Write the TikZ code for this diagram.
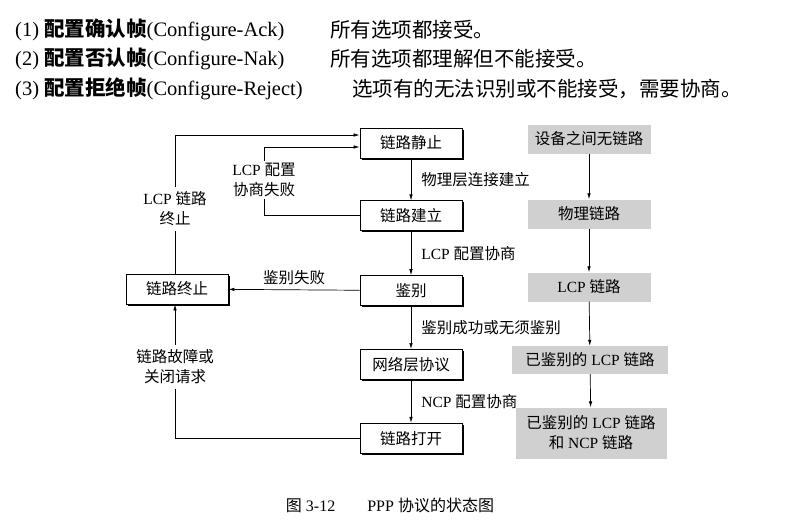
\documentclass[tikz,border=0pt]{standalone}
\usepackage{fontspec}
\setmainfont{Liberation Serif}
\newfontfamily\cjk{Noto Sans CJK SC}
\usetikzlibrary{positioning,arrows.meta,shadows}
\newcommand{\zh}[1]{{\cjk #1}}

\begin{document}
\begin{tikzpicture}[x=1pt,y=-1pt,
    state/.style={draw, line width=0.8pt, fill=white, minimum width=102pt, minimum height=30pt,
      inner sep=0pt, font=\fontsize{15.5}{18}\selectfont,
      drop shadow={shadow xshift=1.5pt, shadow yshift=-1.5pt, opacity=1, fill=black}},
    phase/.style={fill=phasegray, minimum width=123pt, minimum height=29pt, inner sep=0pt,
      align=center, font=\fontsize{15.5}{20}\selectfont},
    lbl/.style={inner sep=2pt, align=center, font=\fontsize{15.5}{20}\selectfont},
    flow/.style={-{Latex[length=6pt,width=3.5pt]}, line width=0.7pt},
    topline/.style={anchor=west, inner sep=0pt, font=\fontsize{20.5}{24}\selectfont}]
    \definecolor{phasegray}{RGB}{208,208,208}

    \useasboundingbox (0,0) rectangle (785,528);

    % Frame types
    \node[topline] (ack) at (15,30) {(1) \textbf{\zh{配置确认帧}}(Configure-Ack)};
    \node[topline] (nak) at (15,59) {(2) \textbf{\zh{配置否认帧}}(Configure-Nak)};
    \node[topline] (rej) at (15,89) {(3) \textbf{\zh{配置拒绝帧}}(Configure-Reject)};
    \node[topline] (ackmeaning) at (330,30) {\zh{所有选项都接受。}};
    \node[topline] (nakmeaning) at (330,59) {\zh{所有选项都理解但不能接受。}};
    \node[topline] (rejmeaning) at (352,89) {\zh{选项有的无法识别或不能接受，需要协商。}};

    % States
    \node[state] (idle) at (411,143) {\zh{链路静止}};
    \node[state, below=42pt of idle] (establish) {\zh{链路建立}};
    \node[state, below=44pt of establish] (auth) {\zh{鉴别}};
    \node[state, below=43pt of auth] (network) {\zh{网络层协议}};
    \node[state, below=43pt of network] (open) {\zh{链路打开}};
    \node[state] (terminate) at (177,289) {\zh{链路终止}};

    \coordinate (failturn) at (264,147);

    \draw[flow] (idle) -- node[lbl, right=8pt, midway] {\zh{物理层连接建立}} (establish);
    \draw[flow] (establish) -- node[lbl, right=8pt, midway] {LCP \zh{配置协商}} (auth);
    \draw[flow] (auth) -- node[lbl, right=8pt, midway] {\zh{鉴别成功或无须鉴别}} (network);
    \draw[flow] (network) -- node[lbl, right=8pt, midway] {NCP \zh{配置协商}} (open);
    \draw[flow] (auth) -- node[lbl, above=3pt, midway] {\zh{鉴别失败}} (terminate);

    % Loops back
    \draw[flow] (establish.west) -| (failturn) -- ([yshift=-4pt]idle.west);
    \node[lbl, fill=white] (failtext) at (264,180) {LCP \zh{配置}\\\zh{协商失败}};
    \draw[flow] ([xshift=-2pt]terminate.north) |- ([yshift=8pt]idle.west);
    \node[lbl, fill=white, inner sep=5pt] (endtext) at (175,209) {LCP \zh{链路}\\\zh{终止}};
    \draw[flow] (open.west) -| ([xshift=-2pt]terminate.south);
    \node[lbl, fill=white, inner sep=5pt] (downtext) at (175,367) {\zh{链路故障或}\\\zh{关闭请求}};

    % Link phases
    \node[phase] (nolink) at (589,139) {\zh{设备之间无链路}};
    \node[phase] (physical) at (589,214) {\zh{物理链路}};
    \node[phase] (lcplink) at (589,287) {LCP \zh{链路}};
    \node[phase, minimum width=156pt, minimum height=28pt] (authlink) at (590,360) {\zh{已鉴别的} LCP \zh{链路}};
    \node[phase, minimum width=151pt, minimum height=51pt] (ncplink) at (591,433) {\zh{已鉴别的} LCP \zh{链路}\\\zh{和} NCP \zh{链路}};

    \draw[flow] (nolink) -- (physical);
    \draw[flow] (physical) -- (lcplink);
    \draw[flow] (lcplink) -- (authlink);
    \draw[flow] (authlink) -- (ncplink);

    \node[lbl, font=\fontsize{16}{19}\selectfont] (caption) at (390,505) {\zh{图} 3-12\hspace{2em}PPP \zh{协议的状态图}};
\end{tikzpicture}
\end{document}
